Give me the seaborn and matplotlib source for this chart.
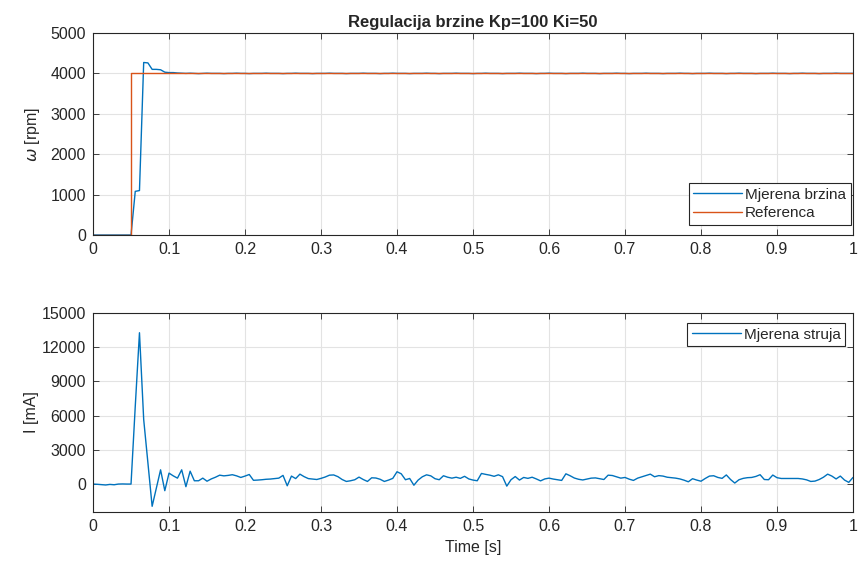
import numpy as np
import matplotlib
matplotlib.use('Agg')
import matplotlib.pyplot as plt
import seaborn as sns

# vremenska baza (181 uzorak na 0..1 s)
t = np.linspace(0, 1, 181)

# izmjerena brzina [rpm]
brzina = [
    0, 0, 0, 0, 0, 0, 0, 0, 0, 0,
    1080, 1100, 4270, 4260, 4100, 4100, 4090, 4030, 4020, 4020,
    4010, 4005, 4000, 4005, 4000, 3995, 4000, 4005, 4000, 4000,
    4000, 3995, 4000, 4000, 4005, 4000, 4000, 3995, 4000, 4000,
    4000, 4005, 4000, 4000, 4000, 3995, 4000, 4000, 4005, 4000,
    4000, 4000, 3995, 4000, 4000, 4000, 4005, 4000, 4000, 4000,
    3995, 4000, 4000, 4000, 4005, 4000, 4000, 4000, 3995, 4000,
    4000, 4005, 4000, 4000, 4000, 3995, 4000, 4000, 4000, 4005,
    4000, 4000, 3995, 4000, 4000, 4000, 4005, 4000, 4000, 4000,
    3995, 4000, 4000, 4005, 4000, 4000, 4000, 3995, 4000, 4000,
    4000, 4005, 4000, 4000, 4000, 3995, 4000, 4000, 4005, 4000,
    4000, 4000, 3995, 4000, 4000, 4000, 4005, 4000, 4000, 4000,
    3995, 4000, 4000, 4000, 4005, 4000, 4000, 3995, 4000, 4000,
    4000, 4005, 4000, 4000, 4000, 3995, 4000, 4000, 4000, 4005,
    4000, 4000, 3995, 4000, 4000, 4000, 4005, 4000, 4000, 4000,
    3995, 4000, 4000, 4005, 4000, 4000, 4000, 3995, 4000, 4000,
    4000, 4005, 4000, 4000, 4000, 3995, 4000, 4000, 4005, 4000,
    4000, 4000, 3995, 4000, 4000, 4000, 4005, 4000, 4000, 4000,
    4000,
]

# referenca (skok na 0.05 s)
ref_t = [0, 0.05, 0.05, 1]
ref_w = [0, 0, 4000, 4000]

# izmjerena struja [mA]
struja = [
    0, -20, -50, -80, -30, -60, 0, 10, 0, 0,
    6800, 13270, 5660, 1850, -1950, -350, 1250, -580, 960, 720,
    520, 1250, -230, 1130, 290, 290, 520, 250, 450, 600,
    780, 720, 760, 820, 720, 580, 700, 840, 330, 350,
    380, 420, 440, 480, 520, 760, -150, 700, 480, 870,
    650, 480, 440, 400, 500, 620, 780, 800, 650, 400,
    230, 290, 380, 610, 400, 230, 550, 530, 420, 230,
    350, 500, 1080, 900, 380, 490, -100, 350, 640, 810,
    720, 470, 380, 730, 600, 520, 600, 500, 680, 450,
    350, 290, 930, 850, 780, 680, 810, 650, -180, 380,
    660, 350, 580, 500, 600, 450, 280, 450, 520, 440,
    380, 320, 900, 730, 530, 420, 360, 440, 520, 540,
    470, 400, 780, 750, 640, 520, 580, 430, 320, 520,
    640, 750, 870, 640, 740, 700, 600, 560, 520, 450,
    340, 200, 470, 350, 250, 490, 700, 730, 580, 500,
    800, 400, 90, 380, 500, 560, 580, 670, 820, 400,
    380, 790, 560, 490, 490, 490, 490, 490, 450, 370,
    230, 260, 400, 600, 870, 700, 450, 700, 350, 150,
    580,
]

x_ticks = [0, 0.1, 0.2, 0.3, 0.4, 0.5, 0.6, 0.7, 0.8, 0.9, 1]
x_labels = ["0", "0.1", "0.2", "0.3", "0.4", "0.5", "0.6", "0.7", "0.8", "0.9", "1"]
y1_ticks = [0, 1000, 2000, 3000, 4000, 5000]
y2_ticks = [0, 3000, 6000, 9000, 12000, 15000]

sns.set_style("whitegrid")
plt.rcParams['font.family'] = ['Liberation Sans', 'DejaVu Sans']
plt.rcParams['mathtext.fontset'] = 'dejavusans'

blue = "#0072BD"
orange = "#D95319"
axc = "#262626"

fig = plt.figure(figsize=(8.59, 5.74), dpi=100)
ax1 = fig.add_axes([0.1083, 0.5906, 0.8847, 0.3519])
ax2 = fig.add_axes([0.1083, 0.108, 0.8847, 0.3467])

sns.lineplot(x=t, y=brzina, ax=ax1, color=blue, linewidth=1.0, label="Mjerena brzina", estimator=None)
sns.lineplot(x=ref_t, y=ref_w, ax=ax1, color=orange, linewidth=1.0, label="Referenca",
             estimator=None, sort=False)
sns.lineplot(x=t, y=struja, ax=ax2, color=blue, linewidth=1.0, label="Mjerena struja", estimator=None)

for ax in (ax1, ax2):
    ax.set_xlim(0, 1)
    ax.set_xticks(x_ticks)
    ax.set_xticklabels(x_labels)
    ax.grid(True, color="#e3e3e3", linewidth=0.8)
    ax.set_facecolor("white")
    for s in ax.spines.values():
        s.set_visible(True)
        s.set_color(axc)
        s.set_linewidth(0.8)
    ax.tick_params(direction="in", length=4, width=0.6, colors=axc, labelsize=11.5,
                   top=True, right=True, bottom=True, left=True, pad=5)

ax1.set_ylim(0, 5000)
ax1.set_yticks(y1_ticks)
ax1.set_ylabel(r"$\omega$ [rpm]", fontsize=11.5, labelpad=6)
ax1.set_title("Regulacija brzine Kp=100 Ki=50", fontsize=12, fontweight="bold", pad=4)
ax1.set_xlabel("")

ax2.set_ylim(-2450, 15000)
ax2.set_yticks(y2_ticks)
ax2.set_ylabel("I [mA]", fontsize=11.5, labelpad=2)
ax2.set_xlabel("Time [s]", fontsize=11.5)

leg1 = ax1.legend(loc="lower right", fontsize=11, fancybox=False, framealpha=1,
                  edgecolor=axc, borderpad=0.3, handlelength=3.2, handletextpad=0.2,
                  labelspacing=0.3, borderaxespad=0.0, bbox_to_anchor=(0.997, 0.05))
leg1.get_frame().set_linewidth(0.8)
leg2 = ax2.legend(loc="upper right", fontsize=11, fancybox=False, framealpha=1,
                  edgecolor=axc, borderpad=0.3, handlelength=3.2, handletextpad=0.2,
                  borderaxespad=0.0, bbox_to_anchor=(0.99, 0.95))
leg2.get_frame().set_linewidth(0.8)

fig.savefig("out.png", dpi=100)
